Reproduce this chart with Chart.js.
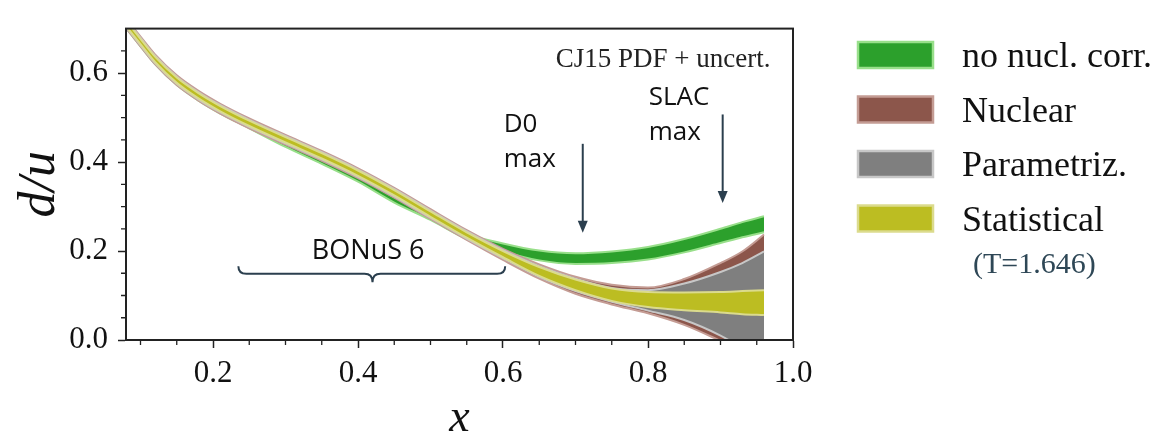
<!DOCTYPE html>
<html>
<head>
<meta charset="utf-8">
<title>d/u ratio</title>
<script src="https://cdn.jsdelivr.net/npm/chart.js@4.4.1/dist/chart.umd.min.js"></script>
<style>
  html, body { margin: 0; padding: 0; background: #fff; }
  #wrap { width: 1170px; height: 433px; }
</style>
</head>
<body>
<div id="wrap"><canvas id="ratioChart" width="1170" height="433"></canvas></div>
<script>
// x grid shared by all uncertainty bands
const xGrid = [0.08, 0.10, 0.12, 0.15, 0.18, 0.21, 0.25, 0.30, 0.35, 0.40, 0.45,
               0.50, 0.55, 0.60, 0.65, 0.70, 0.75, 0.80, 0.85, 0.90, 0.93, 0.96];

// no nuclear corrections
const noNuclLo = [0.701, 0.660, 0.620, 0.573, 0.538, 0.509, 0.476, 0.434, 0.396, 0.356, 0.309,
                  0.270, 0.227, 0.199, 0.179, 0.171, 0.173, 0.181, 0.197, 0.218, 0.231, 0.242];
const noNuclHi = [0.713, 0.672, 0.632, 0.585, 0.550, 0.521, 0.488, 0.446, 0.408, 0.368, 0.321,
                  0.282, 0.239, 0.217, 0.201, 0.195, 0.199, 0.209, 0.227, 0.250, 0.265, 0.278];

// nuclear model uncertainty (outer band)
const nuclearLo = [0.701, 0.660, 0.620, 0.573, 0.538, 0.509, 0.476, 0.439, 0.403, 0.364, 0.320,
                   0.272, 0.225, 0.180, 0.138, 0.104, 0.080, 0.060, 0.034, -0.002, -0.025, -0.050];
const nuclearHi = [0.723, 0.682, 0.642, 0.595, 0.560, 0.531, 0.498, 0.461, 0.425, 0.386, 0.342,
                   0.294, 0.247, 0.205, 0.170, 0.142, 0.124, 0.118, 0.137, 0.173, 0.199, 0.237];

// parametrization uncertainty
const paramLo = [0.704, 0.663, 0.623, 0.576, 0.541, 0.512, 0.479, 0.442, 0.406, 0.367, 0.323,
                 0.275, 0.228, 0.184, 0.142, 0.110, 0.086, 0.066, 0.045, 0.010, -0.018, -0.045];
const paramHi = [0.720, 0.679, 0.639, 0.592, 0.557, 0.528, 0.495, 0.458, 0.422, 0.383, 0.339,
                 0.291, 0.244, 0.202, 0.166, 0.138, 0.117, 0.112, 0.127, 0.153, 0.173, 0.199];

// statistical uncertainty (inner band)
const statLo = [0.706, 0.665, 0.625, 0.578, 0.543, 0.514, 0.481, 0.444, 0.408, 0.369, 0.325,
                0.277, 0.230, 0.186, 0.144, 0.112, 0.088, 0.074, 0.067, 0.062, 0.058, 0.056];
const statHi = [0.718, 0.677, 0.637, 0.590, 0.555, 0.526, 0.493, 0.456, 0.420, 0.381, 0.337,
                0.289, 0.242, 0.200, 0.164, 0.136, 0.116, 0.108, 0.107, 0.108, 0.110, 0.112];

const xTickValues = [0.2, 0.4, 0.6, 0.8, 1.0];
const yTickValues = [0.0, 0.2, 0.4, 0.6];
const xMinorTicks = [0.1, 0.15, 0.25, 0.3, 0.35, 0.45, 0.5, 0.55, 0.65, 0.7, 0.75, 0.85, 0.9, 0.95];
const yMinorTicks = [0.05, 0.1, 0.15, 0.25, 0.3, 0.35, 0.45, 0.5, 0.55, 0.65];

const legendLabels = ['no nucl. corr.', 'Nuclear', 'Parametriz.', 'Statistical'];
const bandFill = ['#2ca02c', '#8c564b', '#7f7f7f', '#bcbd22'];
const bandEdge = ['#98df8a', '#c49c94', '#c7c7c7', '#dbdb8d'];

const SERIF = '"Liberation Serif", "DejaVu Serif", serif';
const SANS = '"Open Sans", "Noto Sans", sans-serif';
const INK = '#2b3f4e';

Chart.defaults.font.family = SERIF;

function toPoints(values) {
    return xGrid.map((x, i) => ({ x, y: values[i] }));
}

function bandDatasets(label, lo, hi, fill, edge, order) {
    const base = {
        borderColor: edge,
        borderWidth: 2,
        pointRadius: 0,
        cubicInterpolationMode: 'monotone',
        clip: 0,
        order
    };
    return [
        { ...base, label: label + ' (low)', data: toPoints(lo), fill: false },
        { ...base, label, data: toPoints(hi), fill: '-1', backgroundColor: fill }
    ];
}

function drawArrow(ctx, x0, yStart, yTip) {
    ctx.lineWidth = 2;
    ctx.beginPath();
    ctx.moveTo(x0, yStart);
    ctx.lineTo(x0, yTip - 10);
    ctx.stroke();
    ctx.beginPath();
    ctx.moveTo(x0 - 5, yTip - 12);
    ctx.lineTo(x0 + 5, yTip - 12);
    ctx.lineTo(x0, yTip);
    ctx.closePath();
    ctx.fill();
}

function drawBrace(ctx, x0, x1, xm, yEnd, yBar, yTip) {
    const r = 8;
    ctx.lineWidth = 2;
    ctx.beginPath();
    ctx.moveTo(x0, yEnd);
    ctx.quadraticCurveTo(x0, yBar, x0 + r, yBar);
    ctx.lineTo(xm - r, yBar);
    ctx.quadraticCurveTo(xm, yBar, xm, yTip);
    ctx.quadraticCurveTo(xm, yBar, xm + r, yBar);
    ctx.lineTo(x1 - r, yBar);
    ctx.quadraticCurveTo(x1, yBar, x1, yEnd);
    ctx.stroke();
}

// frame, minor ticks and the text/arrow notes inside the axes
const plotExtras = {
    id: 'plotExtras',
    afterDraw(chart) {
        const { ctx, chartArea, scales: { x, y } } = chart;
        const px = (v) => x.getPixelForValue(v);
        const py = (v) => y.getPixelForValue(v);
        ctx.save();

        ctx.strokeStyle = '#222';
        ctx.lineWidth = 1.3;
        ctx.beginPath();
        xMinorTicks.forEach((v) => {
            ctx.moveTo(px(v), chartArea.bottom);
            ctx.lineTo(px(v), chartArea.bottom + 5);
        });
        yMinorTicks.forEach((v) => {
            ctx.moveTo(chartArea.left, py(v));
            ctx.lineTo(chartArea.left - 5, py(v));
        });
        ctx.stroke();

        ctx.lineWidth = 2;
        ctx.strokeRect(chartArea.left, chartArea.top, chartArea.right - chartArea.left, chartArea.bottom - chartArea.top);

        ctx.fillStyle = '#222';
        ctx.font = '27px ' + SERIF;
        ctx.textAlign = 'right';
        ctx.textBaseline = 'alphabetic';
        ctx.fillText('CJ15 PDF + uncert.', px(0.969), py(0.614));

        ctx.fillStyle = '#111';
        ctx.font = '26px ' + SANS;
        ctx.textAlign = 'left';
        ctx.fillText('D0', px(0.601), py(0.467));
        ctx.fillText('max', px(0.601), py(0.390));
        ctx.fillText('SLAC', px(0.801), py(0.528));
        ctx.fillText('max', px(0.801), py(0.449));
        ctx.font = '27px ' + SANS;
        ctx.textAlign = 'center';
        ctx.fillText('BONuS 6', px(0.414), py(0.182));

        ctx.strokeStyle = INK;
        ctx.fillStyle = INK;
        drawArrow(ctx, px(0.71), py(0.441), py(0.241));
        drawArrow(ctx, px(0.903), py(0.507), py(0.308));
        drawBrace(ctx, px(0.235), px(0.603), px(0.420), py(0.166), py(0.149), py(0.130));

        ctx.restore();
    }
};

const sideLegend = {
    id: 'sideLegend',
    afterDraw(chart) {
        const ctx = chart.ctx;
        ctx.save();
        ctx.font = '36px ' + SERIF;
        ctx.textAlign = 'left';
        ctx.textBaseline = 'alphabetic';
        legendLabels.forEach((text, i) => {
            const top = 42 + i * 54.5;
            ctx.fillStyle = bandFill[i];
            ctx.fillRect(858, top, 75, 26);
            ctx.strokeStyle = bandEdge[i];
            ctx.lineWidth = 2.5;
            ctx.strokeRect(858, top, 75, 26);
            ctx.fillStyle = '#111';
            ctx.fillText(text, 962, top + 25);
        });
        ctx.font = '30px ' + SERIF;
        ctx.fillStyle = '#2e4756';
        ctx.fillText('(T=1.646)', 973, 273);
        ctx.restore();
    }
};

function axisTicks(values) {
    return (scale) => { scale.ticks = values.map((v) => ({ value: v })); };
}

function renderChart() {
    const ctx = document.getElementById('ratioChart');
    new Chart(ctx, {
        type: 'line',
        data: {
            datasets: [
                ...bandDatasets('Statistical', statLo, statHi, bandFill[3], bandEdge[3], 1),
                ...bandDatasets('Parametriz.', paramLo, paramHi, bandFill[2], bandEdge[2], 2),
                ...bandDatasets('Nuclear', nuclearLo, nuclearHi, bandFill[1], bandEdge[1], 3),
                ...bandDatasets('no nucl. corr.', noNuclLo, noNuclHi, bandFill[0], bandEdge[0], 4)
            ]
        },
        options: {
            responsive: false,
            animation: false,
            layout: { padding: { top: 6, right: 377, bottom: 0, left: 0 } },
            plugins: { legend: { display: false }, tooltip: { enabled: false } },
            scales: {
                x: {
                    type: 'linear',
                    min: 0.08,
                    max: 1.0,
                    afterBuildTicks: axisTicks(xTickValues),
                    afterFit: (s) => { s.height = 93; },
                    ticks: {
                        callback: (v) => Number(v).toFixed(1),
                        font: { size: 31 },
                        color: '#111',
                        padding: 7,
                        maxRotation: 0,
                        autoSkip: false
                    },
                    grid: { drawOnChartArea: false, drawTicks: true, tickLength: 8, tickColor: '#222', tickWidth: 1.5 },
                    border: { color: '#222', width: 2 },
                    title: {
                        display: true,
                        text: 'x',
                        color: '#111',
                        font: { size: 46, style: 'italic', lineHeight: 0.6 },
                        padding: { top: 0, bottom: 0 }
                    }
                },
                y: {
                    type: 'linear',
                    min: 0,
                    max: 0.7,
                    afterBuildTicks: axisTicks(yTickValues),
                    afterFit: (s) => { s.width = 126; },
                    ticks: {
                        callback: (v) => Number(v).toFixed(1),
                        font: { size: 31 },
                        color: '#111',
                        padding: 10
                    },
                    grid: { drawOnChartArea: false, drawTicks: true, tickLength: 8, tickColor: '#222', tickWidth: 1.5 },
                    border: { color: '#222', width: 2 },
                    title: {
                        display: true,
                        text: 'd/u',
                        color: '#111',
                        font: { size: 52, style: 'italic', lineHeight: 1 },
                        padding: { top: 14, bottom: 0 }
                    }
                }
            }
        },
        plugins: [plotExtras, sideLegend]
    });
}

renderChart();
</script>
</body>
</html>
